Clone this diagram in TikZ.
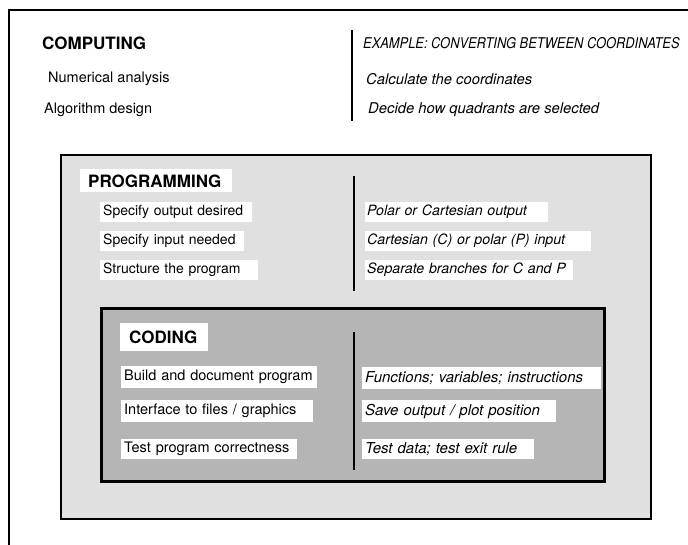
\documentclass[tikz,border=0pt]{standalone}
\usepackage{fontspec}
\usepackage{graphicx}
\setmainfont{TeX Gyre Heros}
\begin{document}
\begin{tikzpicture}[x=1pt,y=-1pt,
  head/.style={font=\bfseries\fontsize{17}{20}\selectfont, anchor=west, inner sep=0pt},
  txt/.style={font=\fontsize{14.5}{17}\selectfont, anchor=west, inner sep=0pt},
  itx/.style={font=\itshape\fontsize{14.8}{17}\selectfont, anchor=west, inner sep=0pt},
  labelbox/.style={fill=white, anchor=west, inner ysep=0pt, align=left,
    font=\bfseries\fontsize{17}{20}\selectfont},
  itembox/.style={fill=white, anchor=west, inner xsep=3pt, inner ysep=0pt,
    minimum height=21pt, align=left, font=\fontsize{14.5}{17}\selectfont},
  itembox it/.style={itembox, font=\itshape\fontsize{15}{17}\selectfont},
  progitem/.style={itembox, inner xsep=3pt, minimum height=20pt, font=\fontsize{14}{16}\selectfont},
  progitem it/.style={progitem, inner xsep=2pt, font=\itshape\fontsize{14.2}{16}\selectfont},
  divider/.style={line width=2.6pt},
  panel/.style={draw=black}
]
\useasboundingbox (0,0) rectangle (688,545);

% outer frame (top and left only)
\coordinate (ftr) at (688,10);
\coordinate (ftl) at (9,10);
\coordinate (fbl) at (9,545);
\draw[line width=1.6pt] (ftr) -- (ftl) -- (fbl);

% computing level
\node[head] (comp) at (42,43) {COMPUTING};
\node[txt] (num) at (48,79) {Numerical analysis};
\node[txt] (alg) at (44,110) {Algorithm design};
\coordinate (d1t) at (352,30);
\coordinate (d1b) at (352,121);
\draw[divider] (d1t) -- (d1b);
\node[itx] (ex) at (363,43) {\scalebox{0.87}[1]{EXAMPLE: CONVERTING BETWEEN COORDINATES}};
\node[itx] (calc) at (366,79) {Calculate the coordinates};
\node[itx] (dec) at (368,110) {Decide how quadrants are selected};

% programming level
\node[panel, fill=gray!24, line width=2pt, minimum width=590pt, minimum height=364pt,
  anchor=north west, inner sep=0pt] (prog) at (60,154) {};
\node[labelbox, inner xsep=8pt, minimum height=23pt, text width=136pt] (proglab) at (80,181) {PROGRAMMING};
\node[progitem, text width=146pt] (p1) at (100,212) {\mbox{Specify output desired}};
\node[progitem, text width=138pt] (p2) at (100,241) {\mbox{Specify input needed}};
\node[progitem, text width=152pt] (p3) at (100,270) {\mbox{Structure the program}};
\coordinate (d2t) at (354,176);
\coordinate (d2b) at (354,291);
\draw[divider] (d2t) -- (d2b);
\node[progitem it, text width=179pt] (q1) at (365,212) {\mbox{Polar or Cartesian output}};
\node[progitem it, text width=222pt] (q2) at (365,241) {\mbox{Cartesian (C) or polar (P) input}};
\node[progitem it, text width=204pt] (q3) at (365,270) {\mbox{Separate branches for C and P}};

% coding level
\node[panel, fill=gray!58, line width=2.6pt, minimum width=503pt, minimum height=173pt,
  anchor=north west, inner sep=0pt] (code) at (100,307) {};
\node[labelbox, inner xsep=9pt, minimum height=27pt, text width=70pt] (codelab) at (120,337) {CODING};
\node[itembox, minimum height=22pt, text width=190pt] (c1) at (121,377) {\mbox{Build and document program}};
\node[itembox, minimum height=22pt, text width=186pt] (c2) at (121,411) {\mbox{Interface to files / graphics}};
\node[itembox, minimum height=20pt, text width=170pt] (c3) at (121,449) {\mbox{Test program correctness}};
\coordinate (d3t) at (354,332);
\coordinate (d3b) at (354,470);
\draw[divider] (d3t) -- (d3b);
\node[itembox it, minimum height=22pt, text width=233pt] (r1) at (362,378) {\mbox{Functions; variables; instructions}};
\node[itembox it, minimum height=22pt, text width=188pt] (r2) at (362,411) {\mbox{Save output / plot position}};
\node[itembox it, minimum height=20pt, text width=166pt] (r3) at (362,449) {\mbox{Test data; test exit rule}};
\end{tikzpicture}
\end{document}
